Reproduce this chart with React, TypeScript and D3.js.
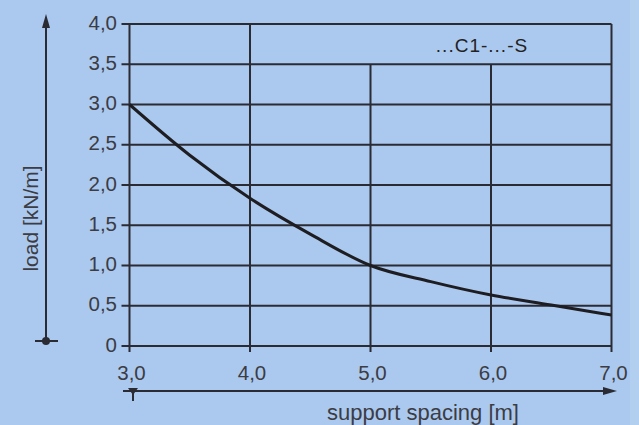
import React from "react";
import * as d3 from "d3";

const spacing = [3.0, 3.5, 4.0, 4.5, 5.0, 5.5, 6.0, 6.5, 7.0];
const load = [3.0, 2.37, 1.835, 1.39, 1.0, 0.8, 0.634, 0.51, 0.385];
const xTicks = [3, 4, 5, 6, 7];
const yTicks = [0, 0.5, 1, 1.5, 2, 2.5, 3, 3.5, 4];
const seriesLabel = "...C1-...-S";
const xTitle = "support spacing [m]";
const yTitle = "load [kN/m]";

const W = 639;
const H = 425;
const BG = "#abc9ee";
const INK = "#2b2b33";
const TXT = "#3c3c44";
const FONT = "'Liberation Sans', Arial, sans-serif";

export default function App() {
  const x = d3.scaleLinear().domain([3, 7]).range([129.5, 611.5]);
  const y = d3.scaleLinear().domain([0, 4]).range([346, 24]);
  const fmt = (v: number) => (v === 0 ? "0" : v.toFixed(1).replace(".", ","));
  const line = d3
    .line<number>()
    .x((_, i) => x(spacing[i]))
    .y((d) => y(d))
    .curve(d3.curveMonotoneX);

  const x0 = x(3);
  const x1 = x(7);
  const yBottom = y(0);

  return (
    <div style={{ position: "fixed", left: 0, top: 0 }}>
      <svg width={W} height={H} style={{ display: "block" }}>
        <rect x={0} y={0} width={W} height={H} fill={BG} />
        <rect x={630} y={0} width={W - 630} height={H} fill="#b3cff0" />

        {/* horizontal grid lines */}
        {yTicks.map((t) => (
          <line key={"h" + t} x1={x0 - 8} x2={x1} y1={y(t)} y2={y(t)} stroke={INK} strokeWidth={2} />
        ))}
        {/* vertical grid lines */}
        {xTicks.map((t) => {
          const top = t === 5 || t === 6 ? y(3.5) : y(4);
          return (
            <line key={"v" + t} x1={x(t)} x2={x(t)} y1={top} y2={yBottom + 6} stroke={INK} strokeWidth={2} />
          );
        })}

        {/* y tick labels */}
        {yTicks.map((t) => (
          <text
            key={"yl" + t}
            x={117}
            y={y(t) + 5.5}
            textAnchor="end"
            fontFamily={FONT}
            fontSize={20.5}
            fill={TXT}
          >
            {fmt(t)}
          </text>
        ))}
        {/* x tick labels */}
        {xTicks.map((t) => (
          <text
            key={"xl" + t}
            x={x(t) + 2}
            y={380}
            textAnchor="middle"
            fontFamily={FONT}
            fontSize={20.5}
            fill={TXT}
          >
            {fmt(t)}
          </text>
        ))}

        {/* curve */}
        <path d={line(load) || ""} fill="none" stroke="#1e1e22" strokeWidth={3} />

        {/* series label */}
        <text x={482} y={52} textAnchor="middle" fontFamily={FONT} fontSize={19} fill="#222" letterSpacing={1}>
          {seriesLabel}
        </text>

        {/* left arrow */}
        <line x1={46} x2={46} y1={24} y2={341} stroke={INK} strokeWidth={2} />
        <path d="M46,14 L42,28 L50,28 Z" fill={INK} />
        <line x1={35} x2={58} y1={341} y2={341} stroke={INK} strokeWidth={2} />
        <circle cx={46} cy={341} r={4} fill={INK} />
        <text
          transform={`translate(38,218.5) rotate(-90)`}
          textAnchor="middle"
          fontFamily={FONT}
          fontSize={21}
          fill={TXT}
        >
          {yTitle}
        </text>

        {/* bottom arrow */}
        <line x1={123} x2={606} y1={391} y2={391} stroke={INK} strokeWidth={2} />
        <path d="M617,391 L603,387 L603,395 Z" fill={INK} />
        <path d="M128,388 L138,388 L133,395 Z" fill={INK} />
        <line x1={133} x2={133} y1={391} y2={401} stroke={INK} strokeWidth={2} />
        <text x={423} y={420} textAnchor="middle" fontFamily={FONT} fontSize={22} fill={TXT}>
          {xTitle}
        </text>
      </svg>
    </div>
  );
}
